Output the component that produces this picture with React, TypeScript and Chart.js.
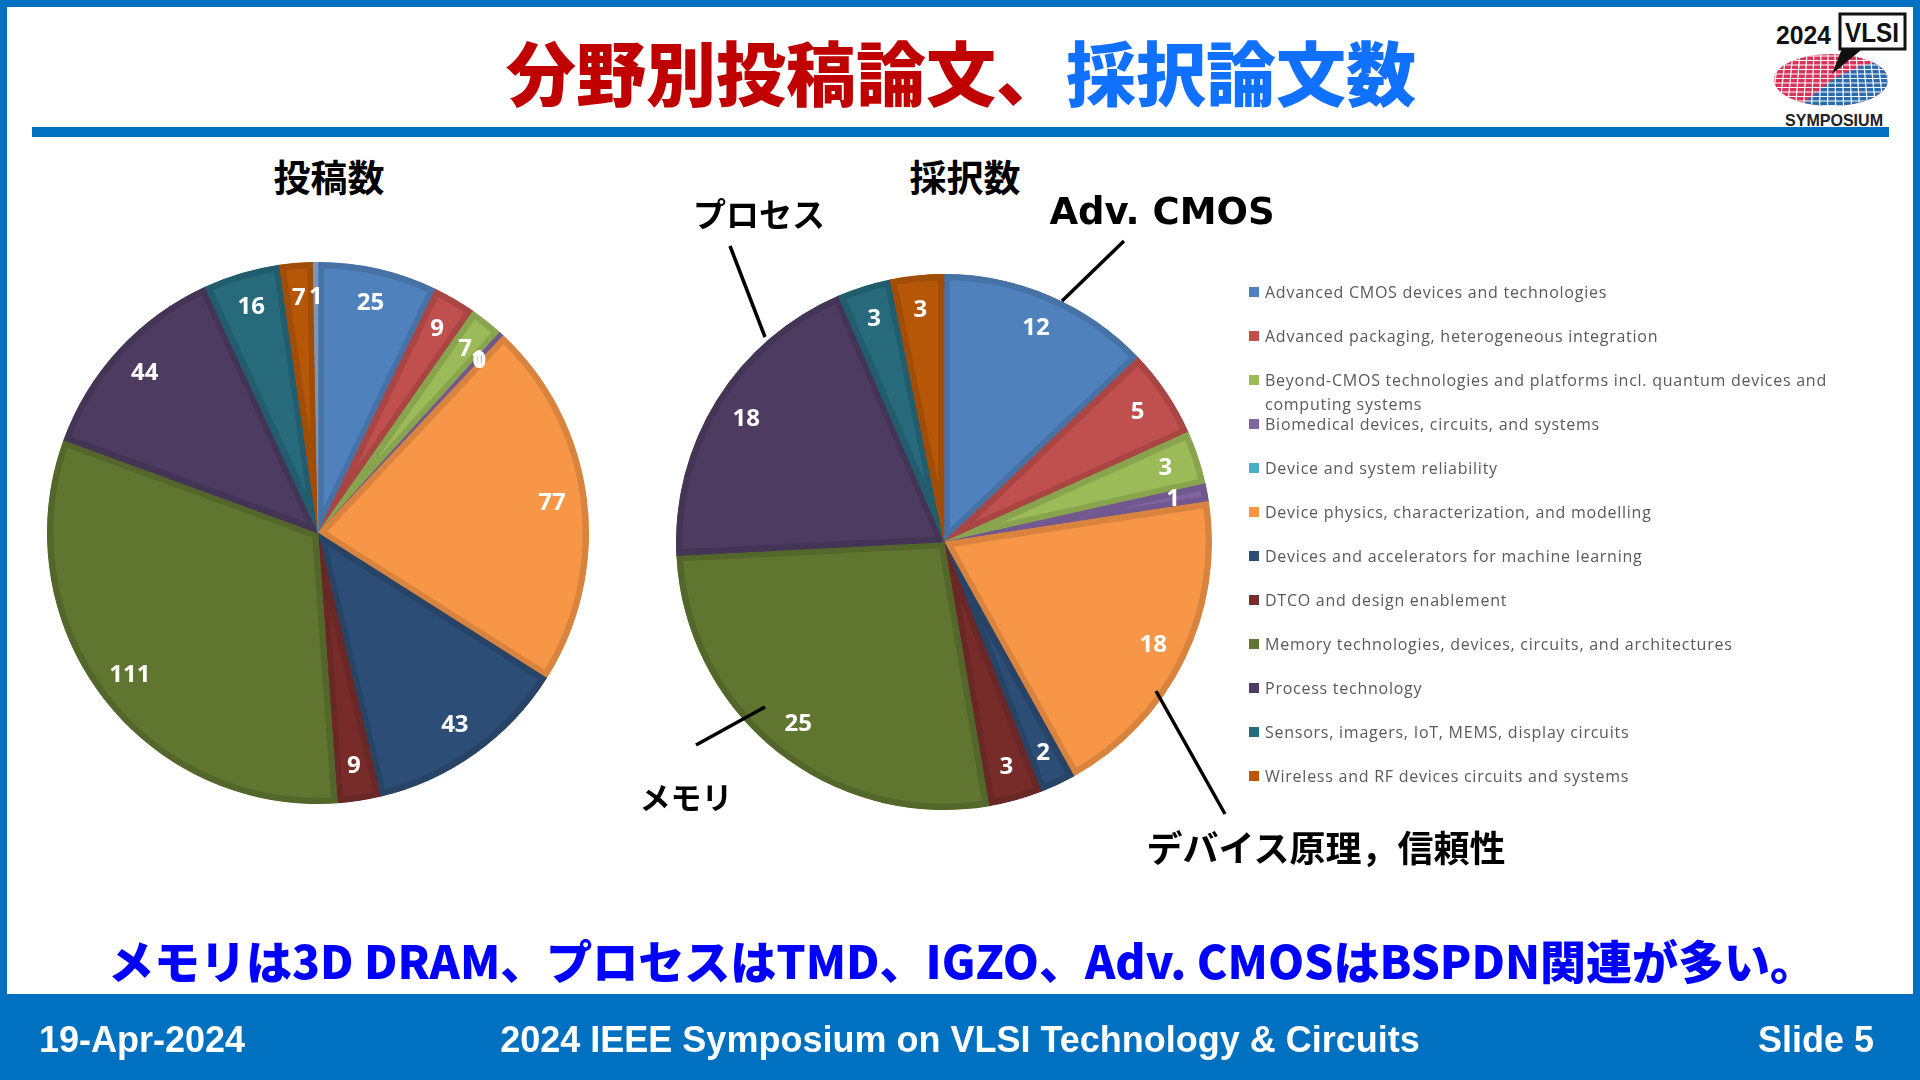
import React, { useEffect, useRef } from 'react';
import { Chart, registerables } from 'chart.js';

Chart.register(...registerables);

// ---------- data ----------
const categories = [
  'Advanced CMOS devices and technologies',
  'Advanced packaging, heterogeneous integration',
  'Beyond-CMOS technologies and platforms incl. quantum devices and computing systems',
  'Biomedical devices, circuits, and systems',
  'Device and system reliability',
  'Device physics, characterization, and modelling',
  'Devices and accelerators for machine learning',
  'DTCO and design enablement',
  'Memory technologies, devices, circuits, and architectures',
  'Process technology',
  'Sensors, imagers, IoT, MEMS, display circuits',
  'Wireless and RF devices circuits and systems',
];
// 投稿数 (submitted)
const submittedCounts = [25, 9, 7, 1, 0, 77, 43, 9, 111, 44, 16, 7];
const submittedUnlistedLabel = 'Other';
const submittedUnlistedCount = 1;
// 採択数 (accepted)
const acceptedCounts = [12, 5, 3, 1, 0, 18, 2, 3, 25, 18, 3, 3];

const sliceColors = [
  '#4F81BD', '#C0504D', '#9BBB59', '#8064A2', '#4BACC6', '#F79646',
  '#2C4D75', '#772C2A', '#5F7530', '#4D3B62', '#276A7C', '#B65708',
];
const unlistedColor = '#8FA9CF';

const slideTitleRed = '分野別投稿論文、';
const slideTitleBlue = '採択論文数';
const leftPieTitle = '投稿数';
const rightPieTitle = '採択数';
const summaryText = 'メモリは3D DRAM、プロセスはTMD、IGZO、Adv. CMOSはBSPDN関連が多い。';
const footerDate = '19-Apr-2024';
const footerCenter = '2024 IEEE Symposium on VLSI Technology & Circuits';
const footerSlide = 'Slide 5';

// ---------- helpers ----------
function shade(hex: string, f: number): string {
  const n = parseInt(hex.slice(1), 16);
  const r = Math.round(((n >> 16) & 255) * f);
  const g = Math.round(((n >> 8) & 255) * f);
  const b = Math.round((n & 255) * f);
  return `rgb(${r},${g},${b})`;
}

const valueLabelsPlugin = {
  id: 'valueLabels',
  afterDatasetsDraw(chart: any, _args: any, opts: any) {
    const ctx = chart.ctx;
    const meta = chart.getDatasetMeta(0);
    const data = chart.data.datasets[0].data as number[];
    ctx.save();
    ctx.font = `bold ${opts.fontSize || 24}px "Open Sans", sans-serif`;
    ctx.fillStyle = '#ffffff';
    ctx.textAlign = 'center';
    ctx.textBaseline = 'middle';
    meta.data.forEach((arc: any, i: number) => {
      const v = data[i];
      if (v === 0 && !opts.showZero) return;
      const p = arc.getProps(['x', 'y', 'startAngle', 'endAngle', 'outerRadius'], true);
      const mid = (p.startAngle + p.endAngle) / 2;
      const r = p.outerRadius * (opts.ratio || 0.87);
      ctx.fillText(String(v), p.x + Math.cos(mid) * r, p.y + Math.sin(mid) * r);
    });
    ctx.restore();
  },
};

type PieProps = {
  labels: string[];
  values: number[];
  colors: string[];
  showZero: boolean;
  left: number;
  top: number;
  size: number;
};

function PieChart({ labels, values, colors, showZero, left, top, size }: PieProps) {
  const ref = useRef<HTMLCanvasElement>(null);
  useEffect(() => {
    const chart = new Chart(ref.current as HTMLCanvasElement, {
      type: 'pie',
      data: {
        labels,
        datasets: [
          {
            data: values,
            backgroundColor: colors,
            borderColor: colors.map((c) => shade(c, 0.88)),
            borderWidth: 6,
            borderAlign: 'inner',
            hoverBorderWidth: 6,
          } as any,
        ],
      },
      options: {
        responsive: false,
        maintainAspectRatio: false,
        animation: false,
        events: [],
        layout: { padding: 0 },
        plugins: {
          legend: { display: false },
          tooltip: { enabled: false },
          valueLabels: { ratio: 0.87, showZero, fontSize: 24 },
        } as any,
      },
      plugins: [valueLabelsPlugin as any],
    });
    return () => chart.destroy();
  }, []);
  return (
    <canvas
      ref={ref}
      width={size}
      height={size}
      style={{ position: 'absolute', left, top, width: size, height: size }}
    />
  );
}

const BLUE = '#0070C0';

function centered(x: number, y: number, extra: React.CSSProperties): React.CSSProperties {
  return {
    position: 'absolute',
    left: x,
    top: y,
    transform: 'translate(-50%, -50%)',
    whiteSpace: 'nowrap',
    lineHeight: 1,
    ...extra,
  };
}

function Logo() {
  const gridH = [];
  for (let y = 56; y < 108; y += 4.5) gridH.push(y);
  const gridV = [];
  for (let x = 1772; x < 1892; x += 7) gridV.push(x);
  return (
    <svg
      style={{ position: 'absolute', left: 1770, top: 10 }}
      width={140}
      height={120}
      viewBox="1770 10 140 120"
    >
      <defs>
        <clipPath id="disk">
          <ellipse cx={1831} cy={80} rx={57} ry={26} />
        </clipPath>
      </defs>
      <g clipPath="url(#disk)">
        <rect x={1770} y={52} width={125} height={58} fill="#D9335A" />
        <polygon points="1795,110 1835,78 1860,66 1895,58 1895,110" fill="#2A6AAE" />
        {gridH.map((y) => (
          <line key={'h' + y} x1={1770} x2={1895} y1={y} y2={y} stroke="#fff" strokeWidth={1.2} />
        ))}
        {gridV.map((x) => (
          <line key={'v' + x} x1={x} x2={x + (x - 1831) * 0.15} y1={52} y2={110} stroke="#fff" strokeWidth={1.2} />
        ))}
      </g>
      <polygon points="1843,46 1866,46 1832,74" fill="#111" />
      <rect x={1840} y={14} width={65} height={35} fill="#fff" stroke="#111" strokeWidth={3} />
      <text x={1872} y={42} textAnchor="middle" fontFamily="Liberation Sans" fontWeight="bold" fontSize={27} textLength={54} lengthAdjust="spacingAndGlyphs" fill="#111">
        VLSI
      </text>
      <text x={1776} y={44} fontFamily="Liberation Sans" fontWeight="bold" fontSize={25} textLength={55} lengthAdjust="spacingAndGlyphs" fill="#111">
        2024
      </text>
      <text x={1834} y={126} textAnchor="middle" fontFamily="Liberation Sans" fontWeight="bold" fontSize={17} textLength={98} lengthAdjust="spacingAndGlyphs" fill="#222">
        SYMPOSIUM
      </text>
    </svg>
  );
}

function Legend() {
  const firstCenter = 291.5;
  const step = 44.07;
  return (
    <>
      {categories.map((c, i) => (
        <div
          key={c}
          style={{
            position: 'absolute',
            left: 1249,
            top: firstCenter + i * step - 12,
            width: 600,
            display: 'flex',
            alignItems: 'flex-start',
            fontFamily: '"Open Sans", sans-serif',
            fontSize: 16,
            letterSpacing: 0.75,
            lineHeight: '24.5px',
            color: '#595959',
          }}
        >
          <div style={{ width: 10, height: 10, background: sliceColors[i], marginTop: 7, marginRight: 6, flex: 'none' }} />
          <div style={{ width: 578 }}>{c}</div>
        </div>
      ))}
    </>
  );
}

export default function App() {
  const leftLabels = [...categories, submittedUnlistedLabel];
  const leftValues = [...submittedCounts, submittedUnlistedCount];
  const leftColors = [...sliceColors, unlistedColor];

  const cjk = '"Noto Sans CJK JP", sans-serif';
  const footerFont = '"Liberation Sans", Arial, sans-serif';

  return (
    <div
      style={{
        position: 'fixed',
        left: 0,
        top: 0,
        width: 1920,
        height: 1080,
        background: '#ffffff',
        overflow: 'hidden',
        fontFamily: cjk,
      }}
    >
      {/* frame */}
      <div style={{ position: 'absolute', left: 0, top: 0, width: 1920, height: 7, background: BLUE }} />
      <div style={{ position: 'absolute', left: 0, top: 0, width: 7, height: 1080, background: BLUE }} />
      <div style={{ position: 'absolute', left: 1913, top: 0, width: 7, height: 1080, background: BLUE }} />
      <div style={{ position: 'absolute', left: 0, top: 994, width: 1920, height: 86, background: BLUE }} />
      <div style={{ position: 'absolute', left: 32, top: 127, width: 1857, height: 10, background: BLUE }} />

      {/* title */}
      <div style={centered(961, 71, { fontSize: 70, fontWeight: 900, fontFamily: cjk })}>
        <span style={{ color: '#C00000' }}>{slideTitleRed}</span>
        <span style={{ color: '#1070FF' }}>{slideTitleBlue}</span>
      </div>

      <Logo />

      {/* pie titles */}
      <div style={centered(329, 176, { fontSize: 37, fontWeight: 700, color: '#000' })}>{leftPieTitle}</div>
      <div style={centered(965, 176, { fontSize: 37, fontWeight: 700, color: '#000' })}>{rightPieTitle}</div>

      {/* pies */}
      <PieChart labels={leftLabels} values={leftValues} colors={leftColors} showZero={true} left={47} top={262} size={542} />
      <PieChart labels={categories} values={acceptedCounts} colors={sliceColors} showZero={false} left={676} top={274} size={536} />

      {/* annotation lines */}
      <svg style={{ position: 'absolute', left: 0, top: 0 }} width={1920} height={1080}>
        <g stroke="#000" strokeWidth={3.5} strokeLinecap="butt">
          <line x1={730} y1={246} x2={765} y2={337} />
          <line x1={1124} y1={241} x2={1062} y2={301} />
          <line x1={696} y1={745} x2={765} y2={707} />
          <line x1={1156} y1={691} x2={1225} y2={814} />
        </g>
      </svg>

      {/* annotation texts */}
      <div style={centered(759, 213, { fontSize: 33, fontWeight: 700, color: '#000' })}>プロセス</div>
      <div style={centered(1162, 211, { fontSize: 37, fontWeight: 700, color: '#000', fontFamily: '"DejaVu Sans", sans-serif' })}>Adv. CMOS</div>
      <div style={centered(686, 795, { fontSize: 31, fontWeight: 700, color: '#000' })}>メモリ</div>
      <div style={centered(1326, 846, { fontSize: 36, fontWeight: 700, color: '#000' })}>デバイス原理，信頼性</div>

      <Legend />

      {/* summary */}
      <div style={centered(962, 959, { fontSize: 46, fontWeight: 900, color: '#0000FF' })}>{summaryText}</div>

      {/* footer */}
      <div style={{ position: 'absolute', left: 39, top: 1040, transform: 'translateY(-50%)', fontFamily: footerFont, fontWeight: 700, fontSize: 36, color: '#fff', lineHeight: 1, whiteSpace: 'nowrap' }}>
        {footerDate}
      </div>
      <div style={centered(960, 1040, { fontFamily: footerFont, fontWeight: 700, fontSize: 36, color: '#fff' })}>{footerCenter}</div>
      <div style={{ position: 'absolute', right: 1920 - 1874, top: 1040, transform: 'translateY(-50%)', fontFamily: footerFont, fontWeight: 700, fontSize: 36, color: '#fff', lineHeight: 1, whiteSpace: 'nowrap' }}>
        {footerSlide}
      </div>
    </div>
  );
}
